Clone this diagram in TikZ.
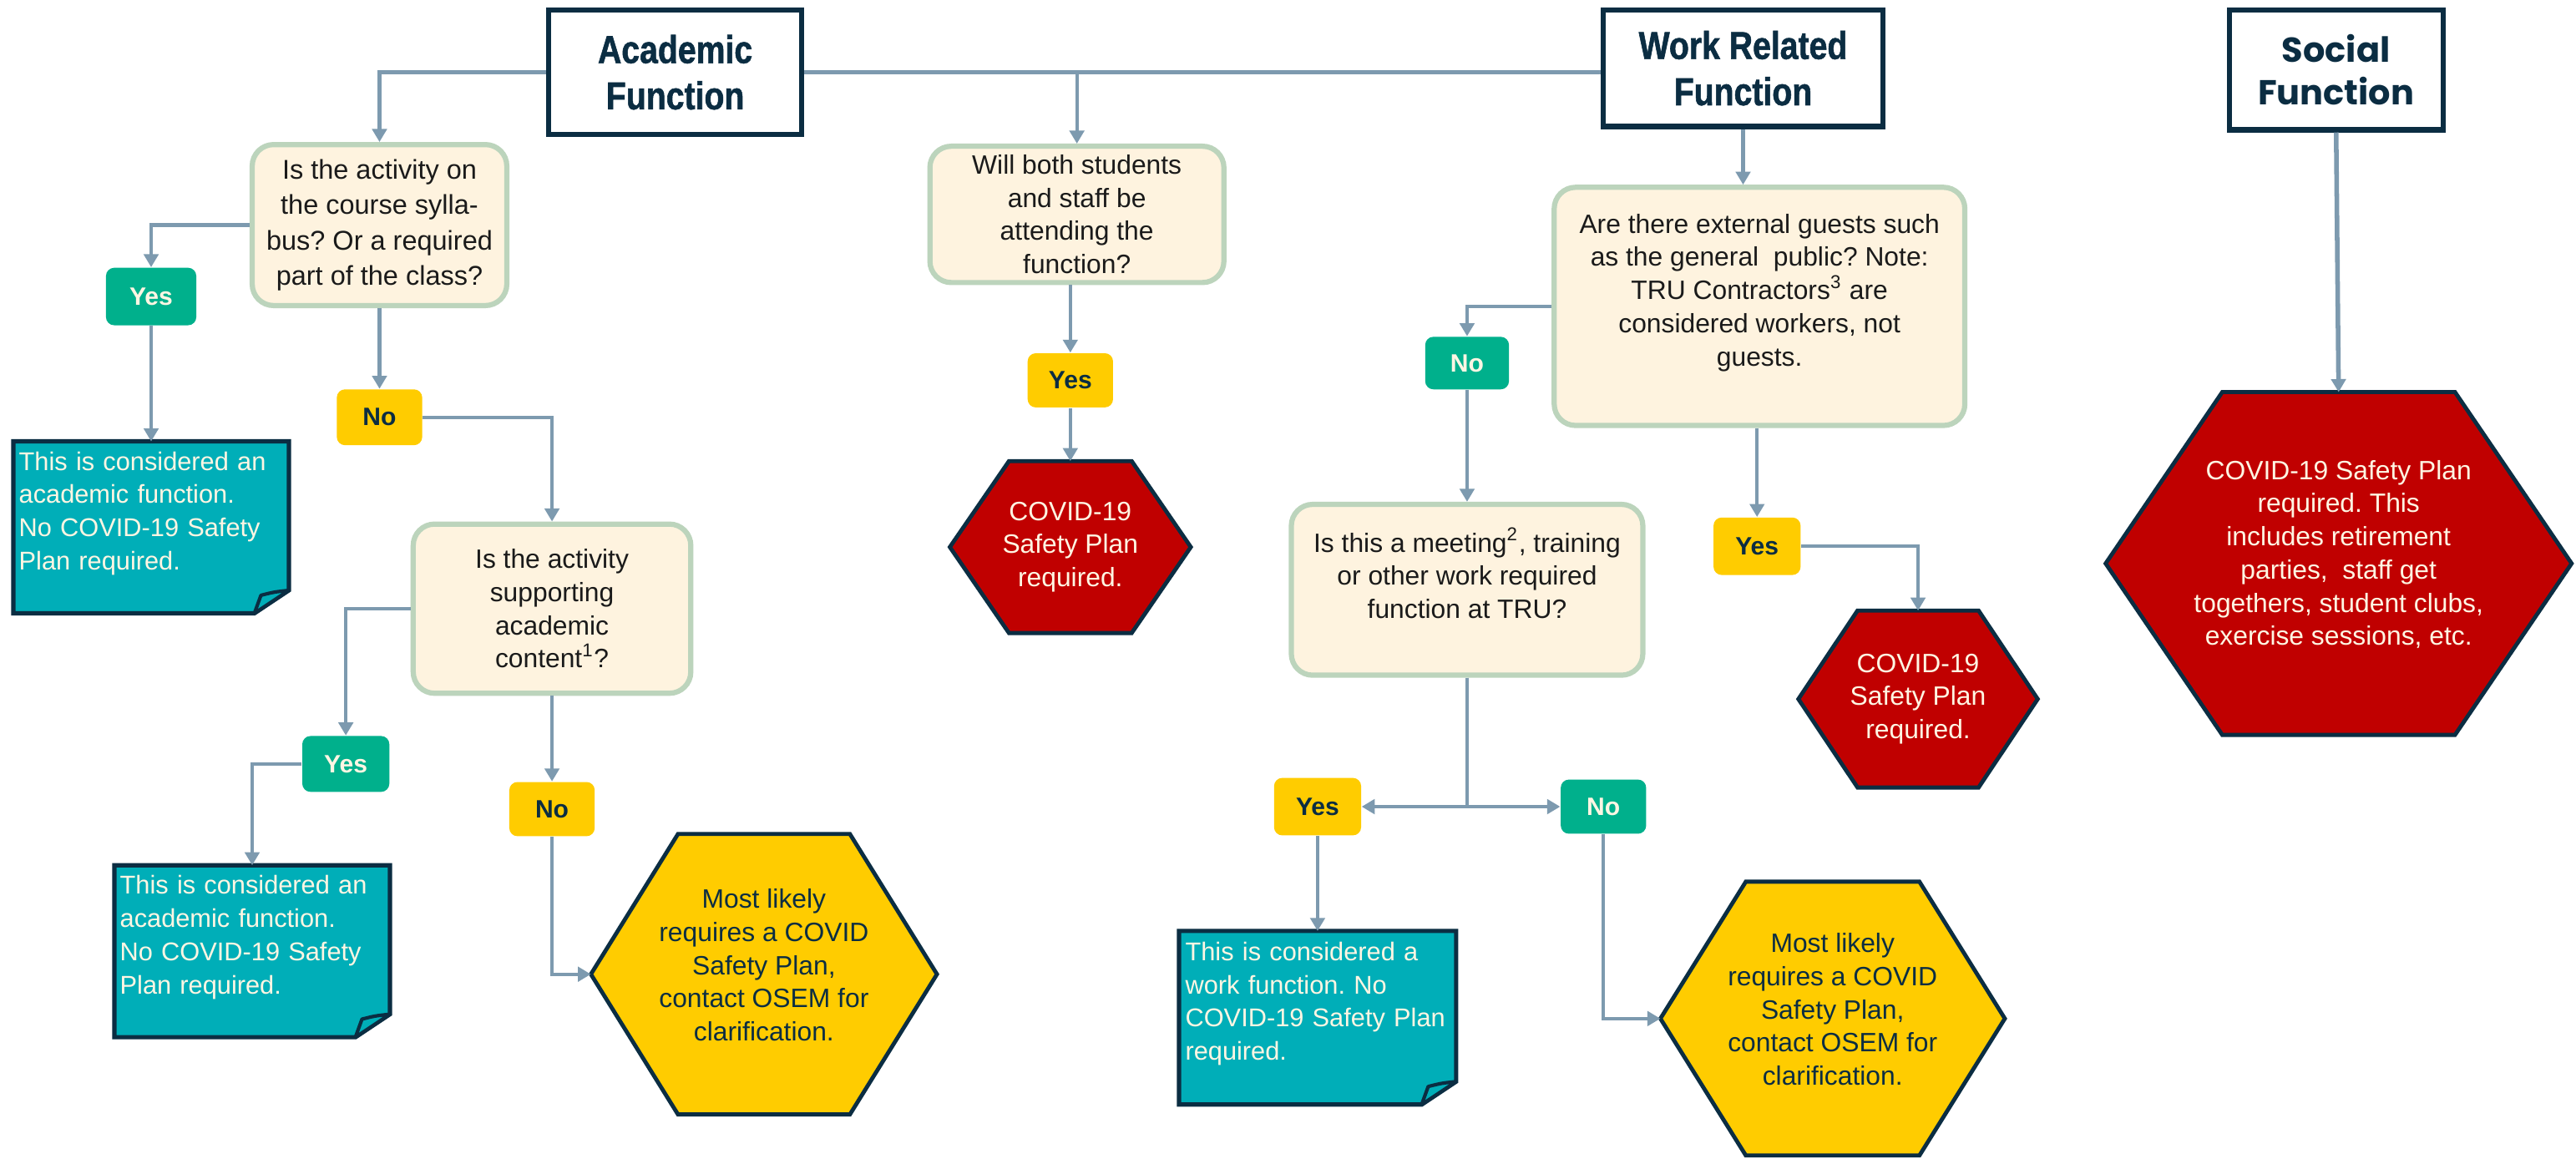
\documentclass[tikz,border=0pt]{standalone}
\usepackage{fontspec}
\setmainfont{Liberation Sans}
\newfontfamily\headfont{Liberation Sans Bold}[FakeStretch=0.84, FakeBold=1.2]
\newfontfamily\popfont{Poppins}
\usetikzlibrary{arrows.meta,calc}
\definecolor{navy}{HTML}{0B2D42}
\definecolor{connc}{HTML}{7D9AAF}
\definecolor{creamc}{HTML}{FEF3DF}
\definecolor{sagec}{HTML}{BCD4BC}
\definecolor{grnc}{HTML}{00B08C}
\definecolor{ylwc}{HTML}{FFCC00}
\definecolor{notec}{HTML}{00AEB8}
\definecolor{redc}{HTML}{C00000}
\definecolor{lighttxt}{HTML}{FFF6E3}
\definecolor{darktxt}{HTML}{1A1A1A}
\pgfdeclarelayer{bg}
\pgfsetlayers{bg,main}
\tikzset{
  headbox/.style={draw=navy, line width=1.8pt, fill=white, align=center, text=navy,
    font=\headfont\fontsize{13.5}{16}\selectfont, inner sep=0pt},
  decbox/.style={draw=sagec, line width=1.8pt, fill=creamc, rounded corners=0.26cm,
    align=center, text=darktxt, font=\frenchspacing\fontsize{9.2}{11.5}\selectfont, inner sep=1pt},
  lblbox/.style={rounded corners=0.1cm, inner sep=0pt, font=\bfseries\fontsize{8.7}{10}\selectfont},
  glbl/.style={lblbox, fill=grnc, text=lighttxt},
  ylbl/.style={lblbox, fill=ylwc, text=navy},
  hexbox/.style={inner sep=0pt, align=center, font=\frenchspacing\fontsize{9.2}{11.5}\selectfont},
  notebox/.style={inner xsep=0.06cm, inner ysep=0pt, text width=3.22cm, align=left,
    text=lighttxt, font=\frenchspacing\fontsize{8.9}{11.5}\selectfont},
  arr/.style={draw=connc, line width=1.2pt, -{Triangle[width=5pt,length=4.5pt]}},
  hexline/.style={draw=navy, line width=1.4pt, line join=miter},
}
\begin{document}
\begin{tikzpicture}[x=0.02cm, y=-0.02cm]
\useasboundingbox (0,0) rectangle (1568,705);

% header boxes
\node[headbox, minimum width=3.08cm, minimum height=1.52cm] (acad) at (411,44) {Academic\\Function};
\node[headbox, minimum width=3.4cm, minimum height=1.42cm] (work) at (1061,41.5) {Work Related\\Function};
\node[headbox, minimum width=2.6cm, minimum height=1.46cm,
      font=\popfont\bfseries\fontsize{12}{15}\selectfont] (soc) at (1422,42.5) {Social\\Function};

% decision boxes
\node[decbox, minimum width=3.1cm, minimum height=1.96cm, font=\frenchspacing\fontsize{9.4}{12.3}\selectfont] (d1) at (231,137)
  {Is the activity on\\the course sylla-\\bus? Or a required\\part of the class?};
\node[decbox, minimum width=3.58cm, minimum height=1.66cm] (will) at (655.5,130.5)
  {Will both students\\and staff be\\attending the\\function?};
\node[decbox, minimum width=3.38cm, minimum height=2.06cm] (d2) at (336,370.5)
  {Is the activity\\supporting\\academic\\content\textsuperscript{1}?};
\node[decbox, minimum width=5.0cm, minimum height=2.9cm] (d3) at (1071,186.5)
  {Are there external guests such\\as the general\ \ public? Note:\\TRU Contractors\textsuperscript{3} are\\considered workers, not\\guests.\\ \mbox{}};
\node[decbox, minimum width=4.28cm, minimum height=2.08cm] (d4) at (893,359)
  {Is this a meeting\textsuperscript{2}, training\\or other work required\\function at TRU?\\ \mbox{}};

% yes / no labels
\node[glbl, minimum width=1.1cm, minimum height=0.7cm] (y1) at (92,180.5) {Yes};
\node[ylbl, minimum width=1.04cm, minimum height=0.68cm] (n1) at (231,254) {No};
\node[glbl, minimum width=1.06cm, minimum height=0.68cm] (y2) at (210.5,465) {Yes};
\node[ylbl, minimum width=1.04cm, minimum height=0.66cm] (n2) at (336,492.5) {No};
\node[ylbl, minimum width=1.04cm, minimum height=0.66cm] (y3) at (651.5,231.5) {Yes};
\node[glbl, minimum width=1.02cm, minimum height=0.64cm] (n3) at (893,221) {No};
\node[ylbl, minimum width=1.06cm, minimum height=0.7cm] (y4) at (1069.5,332.5) {Yes};
\node[ylbl, minimum width=1.06cm, minimum height=0.7cm] (y5) at (802,491) {Yes};
\node[glbl, minimum width=1.04cm, minimum height=0.66cm] (n5) at (976,491) {No};

% notes
\node[notebox, minimum width=3.34cm, minimum height=2.08cm] (nt1) at (92,321)
  {This is considered an\\academic function.\\No COVID-19 Safety\\Plan required.\\ \mbox{}};
\node[notebox, minimum width=3.34cm, minimum height=2.08cm] (nt2) at (153.5,579)
  {This is considered an\\academic function.\\No COVID-19 Safety\\Plan required.\\ \mbox{}};
\node[notebox, minimum width=3.36cm, minimum height=2.1cm] (nt3) at (802,619.5)
  {This is considered a\\work function. No\\COVID-19 Safety Plan\\required.\\ \mbox{}};

% hexagon texts
\node[hexbox, minimum width=4.2cm, minimum height=3.4cm, text=navy] (h1) at (465,593)
  {Most likely\\requires a COVID\\Safety Plan,\\contact OSEM for\\clarification.\\[-5pt]\mbox{}};
\node[hexbox, minimum width=4.18cm, minimum height=3.32cm, text=navy] (h2) at (1115.5,620)
  {Most likely\\requires a COVID\\Safety Plan,\\contact OSEM for\\clarification.\\[-5pt]\mbox{}};
\node[hexbox, minimum width=2.92cm, minimum height=2.08cm, text=lighttxt] (r1) at (651.5,333)
  {COVID-19\\Safety Plan\\required.};
\node[hexbox, minimum width=2.9cm, minimum height=2.14cm, text=lighttxt] (r2) at (1167.5,425.5)
  {COVID-19\\Safety Plan\\required.};
\node[hexbox, minimum width=5.66cm, minimum height=4.16cm, text=lighttxt] (r3) at (1423.5,343)
  {COVID-19 Safety Plan\\required. This\\includes retirement\\parties,\ \ staff get\\togethers, student clubs,\\exercise sessions, etc.\\[-4pt]\mbox{}};

% background shapes
\begin{pgfonlayer}{bg}
  \fill[white] (0,0) rectangle (1568,705);
  \foreach \n/\i/\c in {h1/53/ylwc, h2/52/ylwc, r1/36/redc, r2/36/redc, r3/71/redc} {
    \draw[hexline, fill=\c] (\n.west) -- ($(\n.north west)+(\i,0)$) -- ($(\n.north east)+(-\i,0)$)
      -- (\n.east) -- ($(\n.south east)+(-\i,0)$) -- ($(\n.south west)+(\i,0)$) -- cycle;
  }
  \foreach \n in {nt1, nt2, nt3} {
    \draw[draw=navy, line width=1.5pt, fill=notec, line join=miter]
      (\n.north west) -- (\n.north east) -- ($(\n.south east)+(0,-14)$)
      -- ($(\n.south east)+(-21,0)$) -- (\n.south west) -- cycle;
    \draw[draw=navy, line width=1.2pt, fill=notec, line join=round]
      ($(\n.south east)+(-21,0)$) -- ($(\n.south east)+(-17,-11)$)
      .. controls ($(\n.south east)+(-9,-13)$) .. ($(\n.south east)+(0,-14)$) -- cycle;
  }
\end{pgfonlayer}

% connectors
\draw[draw=connc, line width=1.6pt] (acad.east) -- (acad.east -| work.west);
\draw[arr] (will.north |- acad.east) -- (will.north);
\draw[arr] (acad.west) -| (d1.north);
\draw[arr] (d1.west) -| (y1.north);
\draw[arr] (y1.south) -- (nt1.north);
\draw[arr] (d1.south) -- (n1.north);
\draw[arr] (n1.east) -| (d2.north);
\draw[arr] (d2.west) -| (y2.north);
\draw[arr] (y2.west) -| (nt2.north);
\draw[arr] (d2.south) -- (n2.north);
\draw[arr] (n2.south) |- (h1.west);
\draw[arr] (will.south -| y3.north) -- (y3.north);
\draw[arr] (y3.south) -- (r1.north);
\draw[arr] (work.south) -- (work.south |- d3.north);
\draw[arr] (d3.west) -| (n3.north);
\draw[arr] (n3.south) -- (d4.north);
\draw[arr] (d3.south -| y4.north) -- (y4.north);
\draw[arr] (y4.east) -| (r2.north);
\draw[arr] (d4.south) |- (y5.east);
\draw[arr] (d4.south) |- (n5.west);
\draw[arr] (y5.south) -- (nt3.north);
\draw[arr] (n5.south) |- (h2.west);
\draw[arr, line width=1.6pt] (soc.south) -- (r3.north);
\end{tikzpicture}
\end{document}
